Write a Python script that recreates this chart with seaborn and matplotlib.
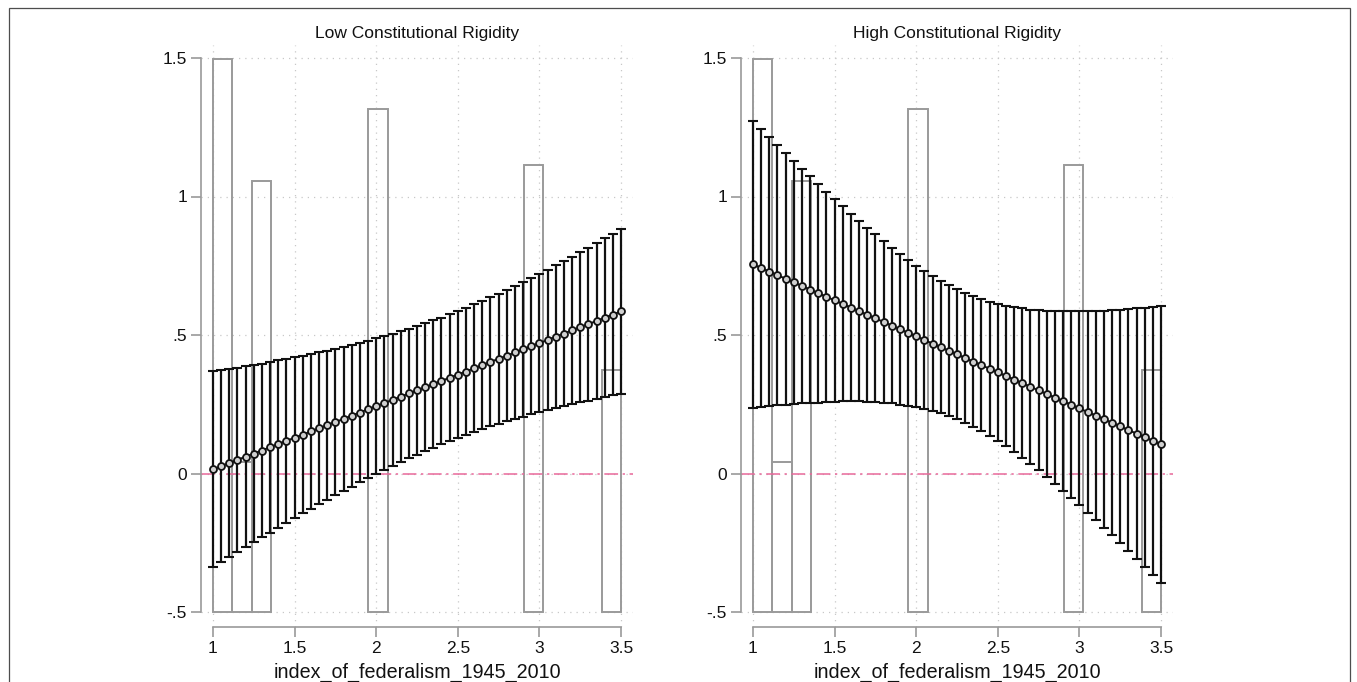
import numpy as np
import pandas as pd
import seaborn as sns
import matplotlib.pyplot as plt
from matplotlib.patches import Rectangle

# margins grid (values of index_of_federalism_1945_2010)
x_grid = [1.00, 1.05, 1.10, 1.15, 1.20, 1.25, 1.30, 1.35, 1.40, 1.45,
          1.50, 1.55, 1.60, 1.65, 1.70, 1.75, 1.80, 1.85, 1.90, 1.95,
          2.00, 2.05, 2.10, 2.15, 2.20, 2.25, 2.30, 2.35, 2.40, 2.45,
          2.50, 2.55, 2.60, 2.65, 2.70, 2.75, 2.80, 2.85, 2.90, 2.95,
          3.00, 3.05, 3.10, 3.15, 3.20, 3.25, 3.30, 3.35, 3.40, 3.45, 3.50]

# Low constitutional rigidity
low_est = [0.015, 0.026, 0.038, 0.049, 0.061, 0.072, 0.083, 0.095, 0.106, 0.118,
           0.129, 0.140, 0.152, 0.163, 0.175, 0.186, 0.197, 0.209, 0.220, 0.232,
           0.243, 0.254, 0.266, 0.277, 0.289, 0.300, 0.311, 0.323, 0.334, 0.346,
           0.357, 0.368, 0.380, 0.391, 0.403, 0.414, 0.425, 0.437, 0.448, 0.460,
           0.471, 0.482, 0.494, 0.505, 0.517, 0.528, 0.539, 0.551, 0.562, 0.574, 0.585]
low_hi = [0.369, 0.373, 0.378, 0.382, 0.388, 0.392, 0.397, 0.403, 0.408, 0.414,
          0.419, 0.424, 0.431, 0.437, 0.444, 0.450, 0.457, 0.465, 0.472, 0.480,
          0.488, 0.496, 0.505, 0.513, 0.523, 0.533, 0.542, 0.553, 0.563, 0.575,
          0.586, 0.598, 0.611, 0.623, 0.636, 0.649, 0.662, 0.677, 0.691, 0.706,
          0.720, 0.735, 0.751, 0.767, 0.783, 0.799, 0.815, 0.832, 0.849, 0.866, 0.883]
low_lo = [-0.339, -0.321, -0.302, -0.284, -0.266, -0.248, -0.231, -0.213, -0.196, -0.178,
          -0.161, -0.144, -0.127, -0.111, -0.094, -0.078, -0.063, -0.047, -0.032, -0.016,
          -0.002, 0.013, 0.027, 0.041, 0.055, 0.068, 0.080, 0.093, 0.105, 0.117,
          0.128, 0.138, 0.149, 0.159, 0.170, 0.179, 0.188, 0.197, 0.205, 0.214,
          0.222, 0.229, 0.237, 0.243, 0.251, 0.257, 0.263, 0.270, 0.275, 0.282, 0.287]

# High constitutional rigidity
high_est = [0.755, 0.742, 0.729, 0.716, 0.703, 0.690, 0.677, 0.664, 0.651, 0.638,
            0.625, 0.612, 0.599, 0.586, 0.573, 0.560, 0.547, 0.534, 0.521, 0.508,
            0.495, 0.482, 0.469, 0.456, 0.443, 0.430, 0.417, 0.404, 0.391, 0.378,
            0.365, 0.352, 0.339, 0.326, 0.313, 0.300, 0.287, 0.274, 0.261, 0.248,
            0.235, 0.222, 0.209, 0.196, 0.183, 0.170, 0.157, 0.144, 0.131, 0.118, 0.105]
high_hi = [1.273, 1.244, 1.215, 1.186, 1.158, 1.129, 1.101, 1.073, 1.046, 1.018,
           0.991, 0.965, 0.938, 0.913, 0.887, 0.863, 0.839, 0.815, 0.793, 0.771,
           0.750, 0.731, 0.712, 0.695, 0.679, 0.665, 0.652, 0.640, 0.630, 0.620,
           0.613, 0.606, 0.600, 0.596, 0.592, 0.589, 0.587, 0.586, 0.585, 0.585,
           0.585, 0.585, 0.586, 0.588, 0.589, 0.591, 0.593, 0.596, 0.598, 0.601, 0.604]
high_lo = [0.237, 0.240, 0.243, 0.246, 0.248, 0.251, 0.253, 0.255, 0.256, 0.258,
           0.259, 0.260, 0.260, 0.260, 0.259, 0.258, 0.256, 0.253, 0.249, 0.245,
           0.240, 0.233, 0.226, 0.217, 0.207, 0.195, 0.182, 0.168, 0.153, 0.136,
           0.117, 0.098, 0.078, 0.056, 0.034, 0.011, -0.013, -0.038, -0.063, -0.089,
           -0.115, -0.141, -0.168, -0.196, -0.223, -0.251, -0.279, -0.308, -0.336, -0.365, -0.394]

# histogram of the moderator (drawn on the same scale, bars start at -.5)
hist_left = [1.000, 1.119, 1.238, 1.952, 2.905, 3.381]
hist_right = [1.119, 1.238, 1.357, 2.071, 3.024, 3.500]
hist_top = [1.496, 0.043, 1.056, 1.316, 1.114, 0.374]
hist_base = -0.5

panel_titles = ["Low Constitutional Rigidity", "High Constitutional Rigidity"]
xticks = [1, 1.5, 2, 2.5, 3, 3.5]
xtick_labels = ["1", "1.5", "2", "2.5", "3", "3.5"]
yticks = [-0.5, 0, 0.5, 1, 1.5]
ytick_labels = ["-.5", "0", ".5", "1", "1.5"]
xlabel = "index_of_federalism_1945_2010"

sns.set_theme(style="white")
plt.rcParams['font.family'] = ['Liberation Sans', 'DejaVu Sans']

fig = plt.figure(figsize=(13.57, 6.82), dpi=100)
fig.patch.set_facecolor("white")
fig.patches.append(Rectangle((9 / 1357, -0.05), 1341 / 1357, 0.05 + 674 / 682,
                             transform=fig.transFigure, fill=False,
                             edgecolor="#4d4d4d", linewidth=0.9))

panels = [(low_est, low_hi, low_lo), (high_est, high_hi, high_lo)]
lefts = [201 / 1357, 741 / 1357]
for i, (est, hi, lo) in enumerate(panels):
    ax = fig.add_axes([lefts[i], 55 / 682, 432 / 1357, 582 / 682])
    df = pd.DataFrame({"x": x_grid, "est": est, "hi": hi, "lo": lo})

    # grid
    for yv in yticks:
        ax.axhline(yv, color="#c8c8c8", lw=0.9, ls=(0, (1, 4)), zorder=0)
    for xv in xticks:
        ax.axvline(xv, color="#c8c8c8", lw=0.9, ls=(0, (1, 4)), zorder=0)

    # histogram outlines
    for l, r, t in zip(hist_left, hist_right, hist_top):
        ax.bar(l, t - hist_base, width=r - l, bottom=hist_base, align="edge",
               fill=False, edgecolor="#9a9a9a", linewidth=1.4, zorder=1)

    ax.axhline(0, color="#e8689a", lw=1.1, ls=(0, (9, 3, 1.5, 3)), zorder=2)

    ax.errorbar(df["x"], df["est"],
                yerr=[df["est"] - df["lo"], df["hi"] - df["est"]],
                fmt="none", ecolor="#111111", elinewidth=1.6, capsize=3.5,
                capthick=1.5, zorder=3)
    sns.lineplot(data=df, x="x", y="est", ax=ax, color="#111111", lw=1.4,
                 marker="o", markersize=5.0, markerfacecolor="#d0d0d0",
                 markeredgecolor="#111111", markeredgewidth=1.3, zorder=4)

    ax.set_xlim(1 - 12 / 163.2, 3.5 + 12 / 163.2)
    ax.set_ylim(-0.5 - 15 / 277, 1.5 + 13 / 277)
    ax.set_xticks(xticks)
    ax.set_xticklabels(xtick_labels)
    ax.set_yticks(yticks)
    ax.set_yticklabels(ytick_labels)
    ax.set_xlabel(xlabel, fontsize=14.2, color="#111111", labelpad=5)
    ax.set_ylabel("")
    ax.set_title(panel_titles[i], fontsize=12.5, color="#111111", pad=5)

    for side in ["top", "right"]:
        ax.spines[side].set_visible(False)
    ax.spines["left"].set_bounds(-0.5, 1.5)
    ax.spines["bottom"].set_bounds(1, 3.5)
    for side in ["left", "bottom"]:
        ax.spines[side].set_color("#9a9a9a")
        ax.spines[side].set_linewidth(1.2)
    ax.tick_params(axis="both", direction="out", length=7, width=1.2,
                   color="#9a9a9a", labelsize=12.5, labelcolor="#111111",
                   left=True, bottom=True, pad=3)
    ax.patch.set_alpha(0)

fig.savefig("out.png", dpi=100, facecolor="white")
